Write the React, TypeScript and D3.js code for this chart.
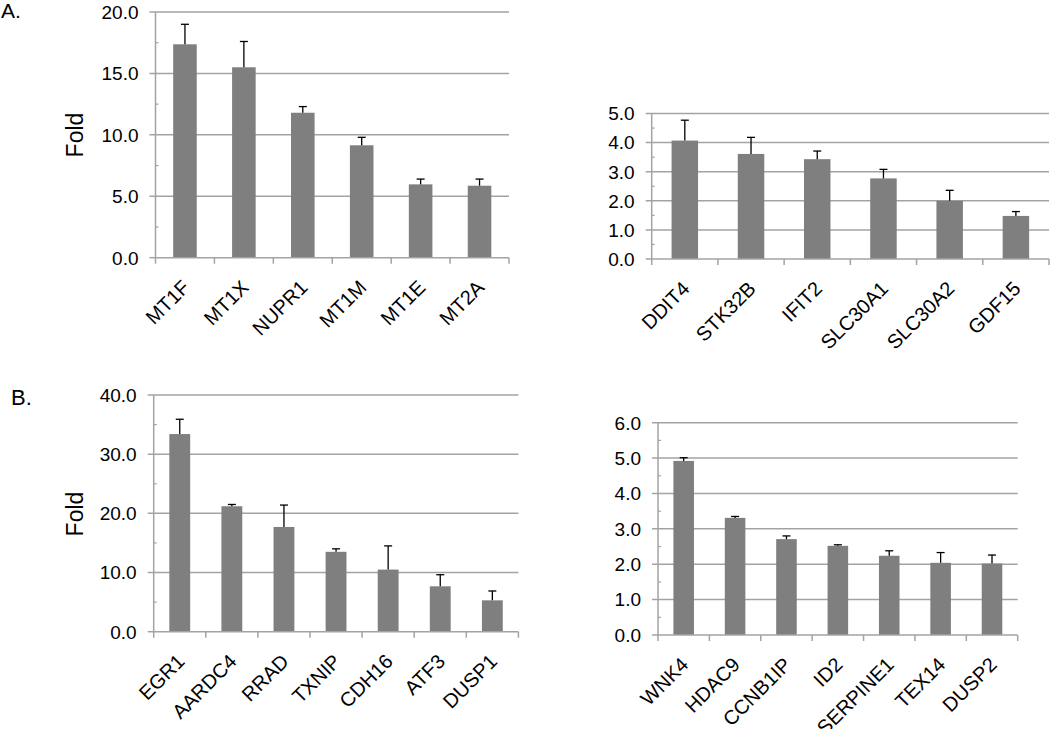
import React from "react";
import * as d3 from "d3";

// ---- Data ----
const genesA1 = ["MT1F", "MT1X", "NUPR1", "MT1M", "MT1E", "MT2A"];
const foldA1 = [17.37, 15.5, 11.8, 9.15, 5.97, 5.86];
const errA1 = [1.63, 2.1, 0.5, 0.65, 0.43, 0.54];

const genesA2 = ["DDIT4", "STK32B", "IFIT2", "SLC30A1", "SLC30A2", "GDF15"];
const foldA2 = [4.07, 3.61, 3.43, 2.77, 2.0, 1.48];
const errA2 = [0.7, 0.57, 0.28, 0.31, 0.36, 0.15];

const genesB1 = ["EGR1", "AARDC4", "RRAD", "TXNIP", "CDH16", "ATF3", "DUSP1"];
const foldB1 = [33.4, 21.2, 17.7, 13.5, 10.5, 7.67, 5.3];
const errB1 = [2.5, 0.3, 3.7, 0.5, 4.0, 1.96, 1.58];

const genesB2 = ["WNK4", "HDAC9", "CCNB1IP", "ID2", "SERPINE1", "TEX14", "DUSP2"];
const foldB2 = [4.92, 3.31, 2.71, 2.52, 2.24, 2.04, 2.02];
const errB2 = [0.09, 0.04, 0.09, 0.03, 0.14, 0.29, 0.24];

const ticksA1 = [0, 5, 10, 15, 20];
const ticksA2 = [0, 1, 2, 3, 4, 5];
const ticksB1 = [0, 10, 20, 30, 40];
const ticksB2 = [0, 1, 2, 3, 4, 5, 6];

const FONT = "'Liberation Sans', Arial, Helvetica, sans-serif";
const GRID = "#a3a3a3";
const BAR = "#7f7f7f";

type PanelProps = {
  genes: string[];
  values: number[];
  errors: number[];
  ticks: number[];
  left: number;
  right: number;
  top: number;
  bottom: number;
};

function Panel({ genes, values, errors, ticks, left, right, top, bottom }: PanelProps) {
  const maxV = ticks[ticks.length - 1];
  const step = ticks[1] - ticks[0];
  const y = d3.scaleLinear().domain([0, maxV]).range([bottom, top]);
  const x = d3.scaleBand<string>().domain(genes).range([left, right]).paddingInner(0).paddingOuter(0);
  const bw = x.bandwidth();
  const barW = bw * 0.4;
  const minor = d3.range(step / 2, maxV, step);
  const bounds = genes.map((g) => x(g) as number).concat([right]);
  return (
    <g>
      {ticks.filter((t) => t > 0).map((t) => (
        <line key={"g" + t} x1={left - 6} x2={right} y1={y(t)} y2={y(t)} stroke={GRID} strokeWidth={1.5} />
      ))}
      {minor.map((t) => (
        <line key={"m" + t} x1={left} x2={left + 3} y1={y(t)} y2={y(t)} stroke={GRID} strokeWidth={1.2} />
      ))}
      {genes.map((g, i) => {
        const cx = (x(g) as number) + bw / 2;
        return (
          <rect key={"b" + g} x={cx - barW / 2} y={y(values[i])} width={barW} height={bottom - y(values[i])} fill={BAR} />
        );
      })}
      {genes.map((g, i) => {
        const cx = (x(g) as number) + bw / 2;
        const yt = y(values[i] + errors[i]);
        return (
          <g key={"e" + g} stroke="#000" strokeWidth={1.3}>
            <line x1={cx} x2={cx} y1={y(values[i])} y2={yt} />
            <line x1={cx - 4} x2={cx + 4} y1={yt} y2={yt} />
          </g>
        );
      })}
      <line x1={left} x2={left} y1={top} y2={bottom} stroke={GRID} strokeWidth={1.5} />
      <line x1={left - 6} x2={left} y1={bottom} y2={bottom} stroke={GRID} strokeWidth={1.5} />
      <line x1={left} x2={right} y1={bottom} y2={bottom} stroke={GRID} strokeWidth={1.5} />
      {bounds.map((bx, i) => (
        <line key={"xt" + i} x1={bx} x2={bx} y1={bottom} y2={bottom + 6} stroke={GRID} strokeWidth={1.5} />
      ))}
      {ticks.map((t) => (
        <text key={"yl" + t} x={left - 17} y={y(t)} dy="0.36em" textAnchor="end" fontSize={19} fontFamily={FONT} fill="#000">
          {t.toFixed(1)}
        </text>
      ))}
      {genes.map((g) => {
        const cx = (x(g) as number) + bw / 2;
        return (
          <text
            key={"xl" + g}
            transform={`translate(${cx + 6},${bottom + 31}) rotate(-45)`}
            textAnchor="end"
            fontSize={20}
            fontFamily={FONT}
            fill="#000"
          >
            {g}
          </text>
        );
      })}
    </g>
  );
}

export default function App() {
  return (
    <svg width={1050} height={729} style={{ position: "absolute", left: 0, top: 0, background: "#fff" }}>
      <rect x={0} y={0} width={1050} height={729} fill="#fff" />
      <text x={1} y={18} fontSize={21} fontFamily={FONT}>A.</text>
      <text x={11} y={405} fontSize={22} fontFamily={FONT}>B.</text>
      <text transform="translate(83,135) rotate(-90)" textAnchor="middle" fontSize={23} fontFamily={FONT}>Fold</text>
      <text transform="translate(83,514) rotate(-90)" textAnchor="middle" fontSize={23} fontFamily={FONT}>Fold</text>
      <Panel genes={genesA1} values={foldA1} errors={errA1} ticks={ticksA1} left={155.5} right={509} top={12} bottom={257.7} />
      <Panel genes={genesA2} values={foldA2} errors={errA2} ticks={ticksA2} left={651.7} right={1049} top={113.5} bottom={259} />
      <Panel genes={genesB1} values={foldB1} errors={errB1} ticks={ticksB1} left={153.7} right={518.4} top={395} bottom={631.7} />
      <Panel genes={genesB2} values={foldB2} errors={errB2} ticks={ticksB2} left={658} right={1017.7} top={422.7} bottom={635} />
    </svg>
  );
}
